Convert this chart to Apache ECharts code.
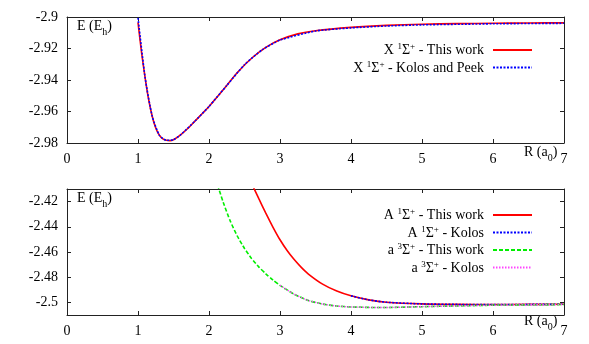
<!DOCTYPE html>
<html>
<head>
<meta charset="utf-8">
<script src="https://cdn.jsdelivr.net/npm/echarts@6/dist/echarts.min.js"></script>
<style>html,body{margin:0;padding:0;background:#fff;}#c{width:589px;height:344px;}</style>
</head>
<body>
<div id="c"></div>
<script>
// ---- data ----
const xTicks = [0, 1, 2, 3, 4, 5, 6, 7];
const yTicksTop = [-2.98, -2.96, -2.94, -2.92, -2.9];
const yTicksBottom = [-2.5, -2.48, -2.46, -2.44, -2.42];

const rXThis = [1.0, 1.05, 1.1, 1.15, 1.2, 1.25, 1.3, 1.35, 1.4, 1.45, 1.5, 1.6, 1.7, 1.8, 2.0, 2.2, 2.4, 2.6, 2.8, 3.0, 3.25, 3.5, 4.0, 4.5, 5.0, 5.5, 6.0, 6.5, 7.0];
const eXThis = [-2.9035, -2.9225, -2.9385, -2.9525, -2.9630, -2.9705, -2.9750, -2.9774, -2.9783, -2.9785, -2.9779, -2.9748, -2.9708, -2.9662, -2.9568, -2.9462, -2.9352, -2.9262, -2.9193, -2.9145, -2.9107, -2.9087, -2.9066, -2.9053, -2.9046, -2.9042, -2.9040, -2.9038, -2.9037];

const rXKolos = [1.0, 1.1, 1.2, 1.3, 1.4, 1.5, 1.6, 1.8, 2.0, 2.25, 2.5, 2.75, 3.0, 3.5, 4.0, 4.5, 5.0, 6.0, 7.0];
const eXKolos = [-2.9005, -2.9385, -2.9630, -2.9750, -2.9783, -2.9779, -2.9748, -2.9662, -2.9568, -2.9435, -2.9303, -2.9208, -2.9147, -2.9089, -2.9069, -2.9057, -2.9050, -2.9043, -2.9040];

const rAThis = [2.5, 2.6, 2.7, 2.8, 2.9, 3.0, 3.1, 3.2, 3.3, 3.4, 3.6, 3.8, 4.0, 4.25, 4.5, 5.0, 5.5, 6.0, 6.5, 7.0];
const eAThis = [-2.393, -2.4055, -2.4175, -2.4292, -2.4402, -2.4503, -2.4588, -2.4660, -2.4722, -2.4775, -2.4855, -2.4910, -2.4948, -2.4980, -2.4999, -2.5012, -2.5016, -2.5017, -2.5016, -2.5015];

const rAKolos = [4.0, 4.25, 4.5, 5.0, 5.5, 6.0, 6.5, 7.0];
const eAKolos = [-2.4948, -2.4980, -2.4999, -2.5012, -2.5016, -2.5017, -2.5016, -2.5015];

const rTripThis = [2.0, 2.1, 2.2, 2.3, 2.4, 2.5, 2.6, 2.7, 2.8, 2.9, 3.0, 3.2, 3.4, 3.6, 3.8, 4.0, 4.4, 5.0, 5.5, 6.0, 6.5, 7.0];
const eTripThis = [-2.384, -2.403, -2.4205, -2.4355, -2.4475, -2.4572, -2.4652, -2.4718, -2.4773, -2.4822, -2.4865, -2.4935, -2.4985, -2.5013, -2.5029, -2.5036, -2.5041, -2.5034, -2.5028, -2.5022, -2.5019, -2.5017];

const rTripKolos = [3.0, 3.2, 3.4, 3.6, 3.8, 4.0, 4.4, 5.0, 5.5, 6.0, 6.5, 7.0];
const eTripKolos = [-2.4865, -2.4935, -2.4985, -2.5013, -2.5029, -2.5036, -2.5041, -2.5034, -2.5028, -2.5022, -2.5019, -2.5017];

const names = ['X 1Σ+ - This work', 'X 1Σ+ - Kolos and Peek', 'A 1Σ+ - This work', 'A 1Σ+ - Kolos', 'a 3Σ+ - This work', 'a 3Σ+ - Kolos'];
const richNames = {
  'X 1Σ+ - This work': '{a|X }{s|1}{a|Σ}{s|+}{a| - This work}',
  'X 1Σ+ - Kolos and Peek': '{a|X }{s|1}{a|Σ}{s|+}{a| - Kolos and Peek}',
  'A 1Σ+ - This work': '{a|A }{s|1}{a|Σ}{s|+}{a| - This work}',
  'A 1Σ+ - Kolos': '{a|A }{s|1}{a|Σ}{s|+}{a| - Kolos}',
  'a 3Σ+ - This work': '{a|a }{s|3}{a|Σ}{s|+}{a| - This work}',
  'a 3Σ+ - Kolos': '{a|a }{s|3}{a|Σ}{s|+}{a| - Kolos}'
};

function zip(xs, ys) { return xs.map((x, i) => [x, ys[i]]); }

const FONT = 'Liberation Serif';
const axisCol = '#222';
function fmt(v) { return String(parseFloat(Number(v).toFixed(2))); }

function xAxes(gi) {
  const base = {
    gridIndex: gi, type: 'value', min: 0, max: 7, interval: 1,
    axisLine: { show: true, onZero: false, lineStyle: { color: axisCol, width: 1 } },
    axisTick: { show: true, inside: true, length: 4, lineStyle: { color: axisCol } },
    splitLine: { show: false }
  };
  return [
    Object.assign({}, base, { position: 'bottom',
      axisLabel: { show: true, margin: 9, color: '#000', fontFamily: FONT, fontSize: 14, customValues: xTicks } }),
    Object.assign({}, base, { position: 'top', axisLabel: { show: false } })
  ];
}
function yAxes(gi, min, max, ticks) {
  const base = {
    gridIndex: gi, type: 'value', min: min, max: max,
    axisLine: { show: true, onZero: false, lineStyle: { color: axisCol, width: 1 } },
    axisTick: { show: true, inside: true, length: 4, lineStyle: { color: axisCol }, customValues: ticks },
    splitLine: { show: false }
  };
  return [
    Object.assign({}, base, { position: 'left',
      axisLabel: { show: true, margin: 9, color: '#000', fontFamily: FONT, fontSize: 14, customValues: ticks, formatter: fmt } }),
    Object.assign({}, base, { position: 'right', axisLabel: { show: false } })
  ];
}

function ser(name, xi, yi, data, color, type, width) {
  return {
    name: name, type: 'line', xAxisIndex: xi, yAxisIndex: yi, data: data,
    showSymbol: false, symbol: 'none', smooth: 0.2, clip: true,
    lineStyle: { color: color, width: width, type: type },
    itemStyle: { color: color }, animation: false
  };
}

const legendRich = {
  a: { fontFamily: FONT, fontSize: 14, color: '#000', lineHeight: 15, verticalAlign: 'bottom' },
  s: { fontFamily: FONT, fontSize: 9, color: '#000', lineHeight: 15, verticalAlign: 'top' }
};
function legend(data, top) {
  return {
    data: data, orient: 'vertical', align: 'right', right: 56, top: top, padding: 0,
    itemWidth: 39, itemHeight: 12, itemGap: 2.5,
    itemStyle: { opacity: 0 },
    formatter: n => richNames[n],
    textStyle: { fontFamily: FONT, fontSize: 14, color: '#000', padding: [0, 4, 0, 0], rich: legendRich },
    selectedMode: false
  };
}

const labRich = {
  a: { fontFamily: FONT, fontSize: 14, fill: '#000', lineHeight: 16, verticalAlign: 'top' },
  b: { fontFamily: FONT, fontSize: 10, fill: '#000', lineHeight: 10, verticalAlign: 'top', padding: [8, 0, 0, 0] }
};
function label(x, y, t) {
  return { type: 'text', x: x, y: y, style: { text: t, rich: labRich, fill: '#000', font: '14px ' + FONT } };
}

const chart = echarts.init(document.getElementById('c'), null, { renderer: 'canvas' });
chart.setOption({
  backgroundColor: '#fff',
  animation: false,
  grid: [
    { left: 67, top: 17, width: 497, height: 126 },
    { left: 67, top: 189, width: 497, height: 126 }
  ],
  xAxis: xAxes(0).concat(xAxes(1)),
  yAxis: yAxes(0, -2.98, -2.9, yTicksTop).concat(yAxes(1, -2.51, -2.41, yTicksBottom)),
  legend: [legend([names[0], names[1]], 42.5), legend([names[2], names[3], names[4], names[5]], 207.5)],
  series: [
    ser(names[0], 0, 0, zip(rXThis, eXThis), '#ff0000', 'solid', 1.6),
    ser(names[1], 0, 0, zip(rXKolos, eXKolos), '#0000ff', [2, 1.5], 1.6),
    ser(names[2], 2, 2, zip(rAThis, eAThis), '#ff0000', 'solid', 1.6),
    ser(names[3], 2, 2, zip(rAKolos, eAKolos), '#0000ff', [2, 1.5], 1.6),
    ser(names[4], 2, 2, zip(rTripThis, eTripThis), '#00ee00', [4, 2], 1.6),
    ser(names[5], 2, 2, zip(rTripKolos, eTripKolos), '#ff44ff', [1.5, 1.5], 1.4)
  ],
  graphic: [
    label(77, 19, '{a|E (E}{b|h}{a|)}'),
    label(77, 191, '{a|E (E}{b|h}{a|)}'),
    label(524, 145, '{a|R (a}{b|0}{a|)}'),
    label(524, 314, '{a|R (a}{b|0}{a|)}')
  ]
});
</script>
</body>
</html>
